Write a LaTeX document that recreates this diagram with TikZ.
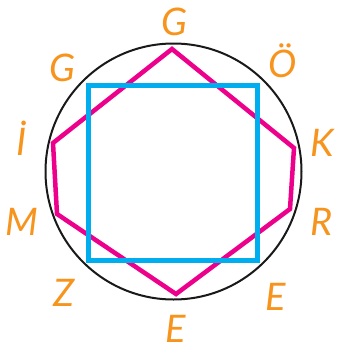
\documentclass[tikz,border=0pt]{standalone}
\usepackage{fontspec}
\setmainfont{Lato}
\definecolor{lorange}{HTML}{F7941D}
\definecolor{lpink}{HTML}{EC008C}
\definecolor{lblue}{HTML}{00AEEF}
\begin{document}
\begin{tikzpicture}[x=1pt,y=-1pt,
  letter/.style={text=lorange,font=\fontsize{38}{38}\selectfont\itshape,inner sep=0pt},
  circ/.style={draw=black!90,line width=2pt},
  hexa/.style={draw=lpink,line width=4.5pt,line join=miter},
  sq/.style={draw=lblue,line width=5pt,line join=miter}]
\useasboundingbox (0,0) rectangle (338,354);
\node[circ,circle,minimum size=256pt,inner sep=0pt] (c) at (173.5,171.5) {};
\coordinate (h1) at (172,49);
\coordinate (h2) at (294,148);
\coordinate (h3) at (290,209);
\coordinate (h4) at (176,294);
\coordinate (h5) at (57,214);
\coordinate (h6) at (53,143);
\draw[hexa] (h1) -- (h2) -- (h3) -- (h4) -- (h5) -- (h6) -- cycle;
\coordinate (s1) at (88,85);
\coordinate (s2) at (257,260);
\draw[sq] (s1) rectangle (s2);
\node[letter] (l1) at (174,22) {G};
\node[letter] (l2) at (283,61) {Ö};
\node[letter] (l3) at (322,143) {K};
\node[letter] (l4) at (322,222) {R};
\node[letter] (l5) at (276,297) {E};
\node[letter] (l6) at (176,329) {E};
\node[letter] (l7) at (64,293) {Z};
\node[letter] (l8) at (22,222) {M};
\node[letter] (l9) at (22,138) {İ};
\node[letter] (l10) at (62,68) {G};
\end{tikzpicture}
\end{document}
